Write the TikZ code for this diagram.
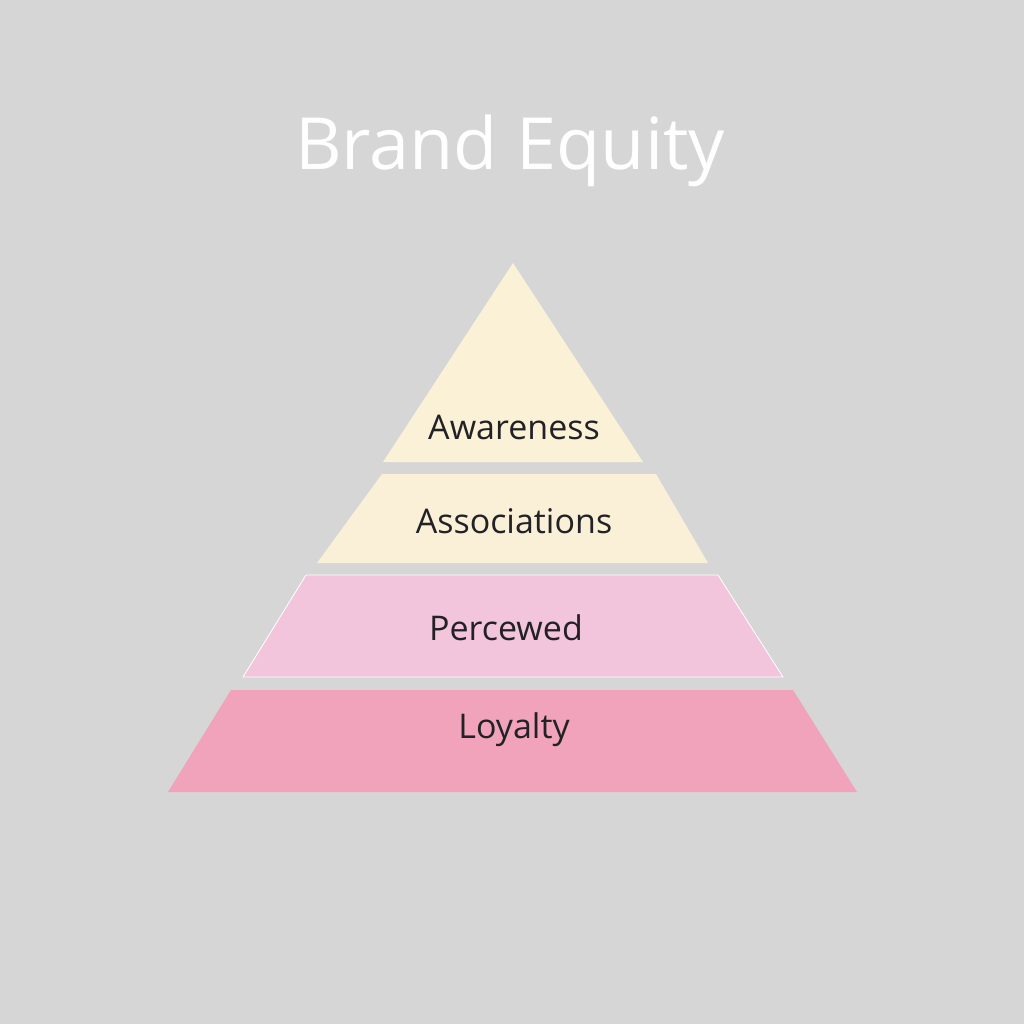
\documentclass[tikz,border=0pt]{standalone}
\usepackage{fontspec}
\setmainfont{Open Sans}
\usetikzlibrary{positioning}

\definecolor{bgGray}{HTML}{D6D6D6}
\definecolor{creamTop}{HTML}{FAF1D6}
\definecolor{creamMid}{HTML}{F9F0D7}
\definecolor{pinkLight}{HTML}{F2C5DD}
\definecolor{pinkDeep}{HTML}{F0A3BA}
\definecolor{labelInk}{HTML}{222226}

\tikzset{
  layer/.style={draw=none},
  layerlabel/.style={text=labelInk, font=\fontsize{34}{40}\selectfont, inner sep=0pt},
  titlelabel/.style={text=white!97!bgGray, font=\fontsize{72}{84}\selectfont, inner sep=0pt}
}

\begin{document}
\begin{tikzpicture}[x=1pt,y=-1pt]

    % Canvas
    \fill[bgGray] (0,0) rectangle (1024,1024);
    \useasboundingbox (0,0) rectangle (1024,1024);

    % Title
    \node[titlelabel] (title) at (510,151) {Brand Equity}; %

    % Layers
    \fill[layer, creamTop]  (513,263) -- (643,462) -- (383,462) -- cycle; %
    \fill[layer, creamMid]  (382,474) -- (656,474) -- (708,563) -- (317,563) -- cycle; %
    \filldraw[layer, pinkLight, draw=white, line width=0.8pt]
                            (306,575) -- (718,575) -- (783,677) -- (243,677) -- cycle; %
    \fill[layer, pinkDeep]  (231,690) -- (793,690) -- (857,792) -- (168,792) -- cycle; %

    % Labels
    \node[layerlabel] (aware)  at (514,427) {Awareness}; %
    \node[layerlabel] (assoc)  at (514,521) {Associations}; %
    \node[layerlabel] (perc)   at (506,628) {Percewed}; %
    \node[layerlabel] (loyal)  at (514,730) {Loyalty}; %

\end{tikzpicture}
\end{document}
